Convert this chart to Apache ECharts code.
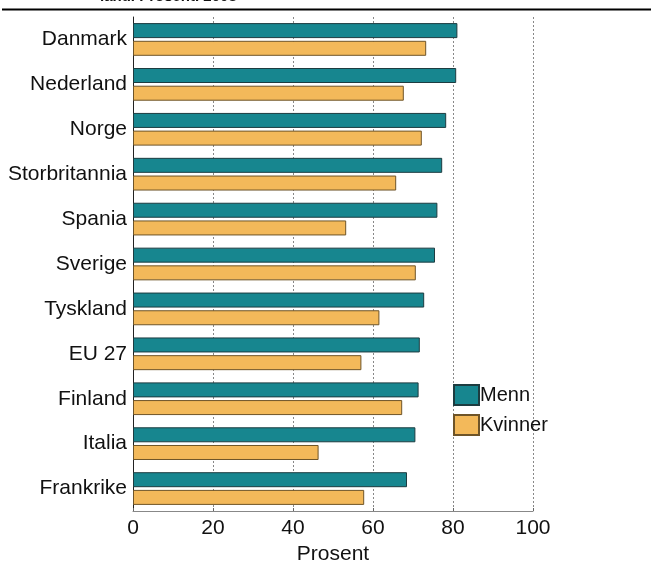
<!DOCTYPE html>
<html>
<head>
<meta charset="utf-8">
<script src="https://cdn.jsdelivr.net/npm/echarts@6/dist/echarts.min.js"></script>
<style>
  html, body { margin: 0; padding: 0; background: #fff; }
  #chart { width: 651px; height: 563px; }
</style>
</head>
<body>
<div id="chart"></div>
<script>
// Employment rate by sex and country, per cent, 2008
const countries = ['Danmark', 'Nederland', 'Norge', 'Storbritannia', 'Spania', 'Sverige',
                   'Tyskland', 'EU 27', 'Finland', 'Italia', 'Frankrike'];
const menn    = [81.1, 80.8, 78.3, 77.3, 76.1, 75.5, 72.8, 71.7, 71.4, 70.6, 68.5];
const kvinner = [73.3, 67.7, 72.2, 65.8, 53.3, 70.7, 61.6, 57.1, 67.3, 46.4, 57.8];
const xTicks  = [0, 20, 40, 60, 80, 100];

const FONT = '"Liberation Sans", Arial, sans-serif';
const chart = echarts.init(document.getElementById('chart'), null, { renderer: 'canvas' });

chart.setOption({
  animation: false,
  backgroundColor: '#ffffff',
  textStyle: { fontFamily: FONT },
  graphic: [
    {
      type: 'text', left: 100, top: -11,
      style: { text: 'land. Prosent. 2008', font: 'bold 15px ' + FONT, fill: '#111' }
    },
    {
      type: 'line',
      shape: { x1: 2, y1: 9.5, x2: 651, y2: 9.5 },
      style: { stroke: '#000', lineWidth: 2 }
    }
  ],
  legend: {
    orient: 'vertical',
    left: 448, top: 379,
    itemWidth: 25, itemHeight: 20, itemGap: 8,
    icon: 'rect',
    textStyle: { fontSize: 20, color: '#111', fontFamily: FONT, padding: [0, 0, 0, -4] },
    data: ['Menn', 'Kvinner']
  },
  grid: { left: 133, right: 118, top: 17, bottom: 52, containLabel: false, outerBoundsMode: 'none' },
  xAxis: {
    type: 'value',
    min: xTicks[0], max: xTicks[xTicks.length - 1], interval: 20,
    name: 'Prosent', nameLocation: 'middle', nameGap: 33,
    nameTextStyle: { fontSize: 21, color: '#111', fontFamily: FONT },
    axisLine: { show: true, lineStyle: { color: '#888', width: 1 } },
    axisTick: { show: true, inside: true, length: 3, lineStyle: { color: '#666' } },
    axisLabel: { fontSize: 21, color: '#111', margin: 7, fontFamily: FONT },
    splitLine: { show: true, lineStyle: { color: '#888', type: [2, 2], width: 1 } }
  },
  yAxis: {
    type: 'category',
    inverse: true,
    data: countries,
    axisLine: { show: true, lineStyle: { color: '#222', width: 1 } },
    axisTick: { show: false },
    axisLabel: { fontSize: 21, color: '#111', margin: 6, fontFamily: FONT }
  },
  series: [
    {
      name: 'Menn', type: 'bar', data: menn,
      barWidth: 15, barGap: '18%',
      itemStyle: { color: '#17868f', borderColor: '#1d3c40', borderWidth: 1 }
    },
    {
      name: 'Kvinner', type: 'bar', data: kvinner,
      barWidth: 15,
      itemStyle: { color: '#f3b95a', borderColor: '#6e5428', borderWidth: 1 }
    }
  ]
});
</script>
</body>
</html>
